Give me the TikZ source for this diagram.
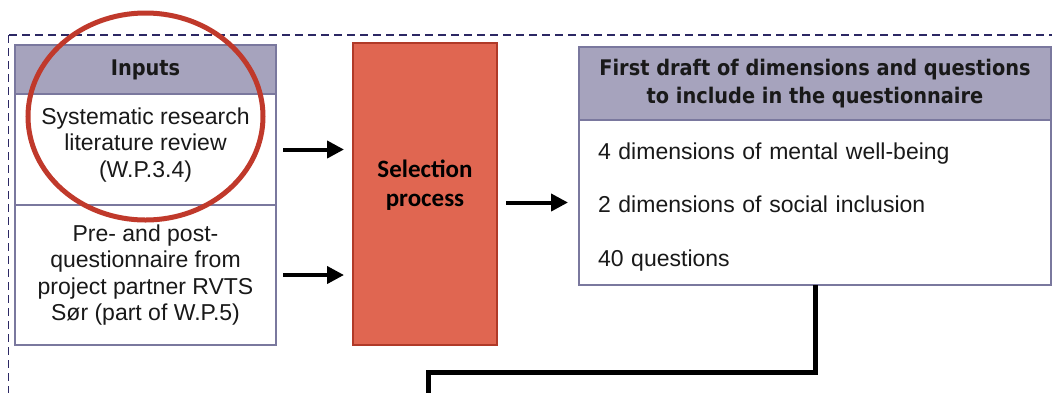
\documentclass[tikz,border=0pt]{standalone}
\usepackage{fontspec}
\setmainfont{Liberation Sans}
\newfontfamily\headfamily{DejaVu Sans Condensed}
\newfontfamily\selfamily{Carlito}
\usetikzlibrary{positioning,shapes.geometric,arrows.meta}
\definecolor{cellborder}{RGB}{122,120,158}
\definecolor{headfill}{RGB}{166,163,189}
\definecolor{selfill}{RGB}{224,102,81}
\definecolor{selborder}{RGB}{176,58,40}
\definecolor{ringred}{RGB}{192,57,43}
\definecolor{framenavy}{RGB}{44,40,100}
\tikzset{
  cellbox/.style={
    % The shape:
    shape=rectangle, inner sep=0pt, outer sep=0pt,
    % The border:
    line width=2pt, draw=cellborder,
    % The filling and text:
    fill=white, align=center, text=black!90,
    font=\fontsize{23}{26.5}\selectfont
  },
  headbox/.style={
    cellbox, fill=headfill, % greyish purple title bar
    font=\headfamily\bfseries\fontsize{21.5}{28}\selectfont
  },
  selbox/.style={
    shape=rectangle, line width=2pt, draw=selborder, fill=selfill,
    align=center, font=\selfamily\bfseries\fontsize{25}{29}\selectfont
  },
  flow/.style={-{Triangle[length=17pt,width=17pt]}, line width=4pt},
  link/.style={line width=5pt, black},
  frame/.style={draw=framenavy, line width=1.5pt, dash pattern=on 8pt off 5pt}
}

\begin{document}
\begin{tikzpicture}[x=1pt,y=-1pt]
	\clip (0,0) rectangle (1052,392);
	\draw[frame] (8.5,35) rectangle (1080,430);
	% inputs column
	\node[headbox, minimum width=261, minimum height=49] (inputs) at (145.5,69.5) {Inputs};
	\node[cellbox, minimum width=261, minimum height=111, text depth=14pt, below=0pt of inputs] (review)
		{Systematic research\\literature review\\(W.P.3.4)};
	\node[cellbox, minimum width=261, minimum height=140, below=0pt of review] (prepost)
		{Pre- and post-\\questionnaire from\\project partner RVTS\\Sør (part of W.P.5)};
	% selection
	\node[selbox, minimum width=144, minimum height=302, text depth=21pt] (sel) at (425,194)
		{Selection\\process};
	% first draft
	\node[headbox, minimum width=472, minimum height=73] (draft) at (815,83.5)
		{First draft of dimensions and questions\\to include in the questionnaire};
	\node[cellbox, minimum width=472, minimum height=165, text width=434, align=left,
		text height=25pt, font=\fontsize{23}{53.5}\selectfont, below=0pt of draft] (items)
		{4 dimensions of mental well-being\\2 dimensions of social inclusion\\40 questions};
	% arrows
	\draw[flow, shorten <=7pt, shorten >=8pt] (review.east) -- (review.east -| sel.west);
	\draw[flow, shorten <=7pt, shorten >=8pt] (prepost.east) -- (prepost.east -| sel.west);
	\draw[flow, shorten <=8pt, shorten >=11pt] (items.west -| sel.east) -- (items.west);
	% link down to the next step
	\coordinate (turn) at (428,372);
	\coordinate (exit) at (428,420);
	\draw[link] (items.south) |- (turn) -- (exit);
	% highlight ring
	\node[ellipse, draw=ringred, line width=5pt, minimum width=235, minimum height=207] (ring)
		at (145.5,116.5) {};
\end{tikzpicture}
\end{document}
